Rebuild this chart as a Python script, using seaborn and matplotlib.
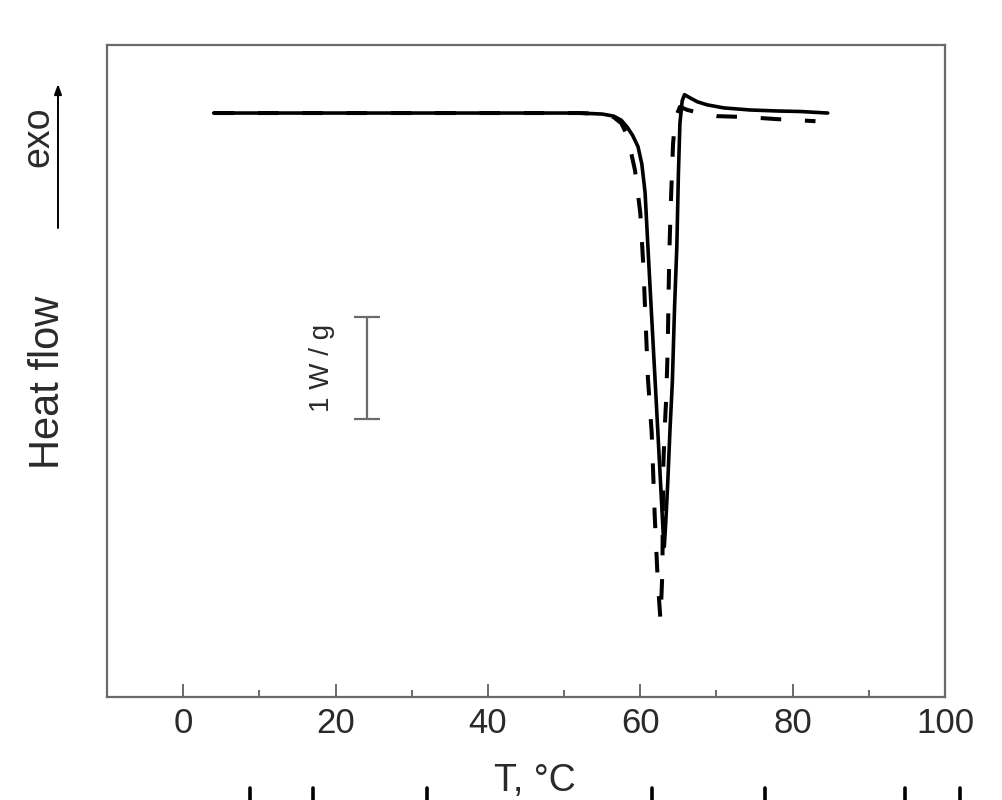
import numpy as np
import pandas as pd
import matplotlib
matplotlib.use("Agg")
import matplotlib.pyplot as plt
from matplotlib.lines import Line2D
from matplotlib.ticker import MultipleLocator
import seaborn as sns

# ---- data ----
t_solid = [4, 20, 40, 52, 55, 56.5, 57.5, 58.3, 59.0, 59.7, 60.2, 60.63, 61.09, 61.61,
           62.2, 62.66, 62.99, 63.15, 63.35, 63.6, 63.9, 64.2, 64.5, 64.8, 65.0,
           65.2, 65.5, 65.8, 66.5, 67.5, 68.8, 71, 74.4, 78, 81, 84.6]
hf_solid = [0, 0, 0, 0, -0.01, -0.03, -0.07, -0.14, -0.22, -0.33, -0.5, -0.78, -1.44, -2.16,
            -2.98, -3.63, -4.1, -4.25, -4.0, -3.63, -3.1, -2.65, -1.9, -1.3, -0.6,
            -0.1, 0.12, 0.18, 0.15, 0.11, 0.08, 0.05, 0.03, 0.02, 0.015, 0.0]

t_dashed = [4, 20, 40, 52, 55, 56.5, 57.5, 58.3, 59.3, 60.0, 60.4, 60.7, 61.0, 61.5, 61.9,
            62.3, 62.65, 62.9, 63.0, 63.2, 63.4, 63.6, 63.8, 64.0, 64.3, 64.6, 65.2, 66.2,
            67.8, 70, 74, 78, 83]
hf_dashed = [0, 0, 0, 0, -0.01, -0.04, -0.1, -0.22, -0.56, -0.98, -1.5, -2.05, -2.6, -3.14,
             -3.96, -4.6, -4.97, -4.5, -3.5, -3.1, -2.8, -2.3, -1.4, -0.9, -0.3, -0.05, 0.06,
             0.03, 0.0, -0.03, -0.04, -0.06, -0.08]

series_names = ["solid", "dashed"]
x_ticks = [0, 20, 40, 60, 80, 100]

df = pd.concat([
    pd.DataFrame({"T": t_solid, "hf": hf_solid, "run": series_names[0]}),
    pd.DataFrame({"T": t_dashed, "hf": hf_dashed, "run": series_names[1]}),
], ignore_index=True)

# ---- style ----
sns.set_style("white")
plt.rcParams["font.family"] = ["Liberation Sans", "DejaVu Sans"]
spine_col = "#6a6a6a"
text_col = "#2a2a2a"

fig = plt.figure(figsize=(10.03, 8), dpi=100)
ax = fig.add_axes([0.1067, 0.12875, 0.8355, 0.815])

sns.lineplot(data=df, x="T", y="hf", hue="run", style="run",
             palette={"solid": "black", "dashed": "black"},
             dashes={"solid": "", "dashed": (5.1, 5.9)},
             estimator=None, sort=False, legend=False, ax=ax,
             linewidth=2.6)
for ln in ax.get_lines():
    ln.set_solid_joinstyle("round")
    ln.set_dash_capstyle("butt")
ax.get_lines()[1].set_linewidth(2.9)

ax.set_xlim(-10, 100)
ax.set_ylim(-5.725, 0.667)
ax.set_xticks(x_ticks)
ax.set_xticklabels([str(v) for v in x_ticks])
ax.xaxis.set_minor_locator(MultipleLocator(10))
ax.set_yticks([])

for sp in ax.spines.values():
    sp.set_color(spine_col)
    sp.set_linewidth(1.6)

ax.tick_params(axis="x", which="major", direction="in", length=9.5, width=1.4,
               color=spine_col, labelsize=25, labelcolor=text_col, pad=7,
               top=False, bottom=True)
ax.tick_params(axis="x", which="minor", direction="in", length=5, width=1.4,
               color=spine_col, top=False, bottom=True)

# axis labels
ax.set_xlabel("T, °C", fontsize=27, color=text_col)
ax.xaxis.set_label_coords(0.511, -0.1435)
ax.xaxis.label.set_va("baseline")

ax.set_ylabel("Heat flow", fontsize=30, color=text_col)
ax.yaxis.label.set_va("center")
ax.yaxis.label.set_ha("center")
ax.yaxis.set_label_coords(-0.0705, 0.483)

# 1 W/g scale bar
ax.errorbar([24.15], [-2.5], yerr=[0.5], color=spine_col, elinewidth=1.6,
            capsize=9.4, capthick=1.6, fmt="none")
ax.text(18.2, -2.5, "1 W / g", rotation=90, ha="center", va="center",
        fontsize=20, color=text_col)

# exo arrow
fig.text(38 / 1003, 1 - 137 / 800, "exo", rotation=90, ha="center", va="center",
         fontsize=27, color=text_col)
ax.annotate("", xy=(58, 800 - 84), xytext=(58, 800 - 228),
            xycoords="figure pixels", textcoords="figure pixels",
            arrowprops=dict(arrowstyle="-|>,head_length=0.6,head_width=0.22",
                            color="black", lw=1.4, shrinkA=0, shrinkB=0))

# fragments of the next panel's tick marks at the bottom edge
for xp in [250, 313, 427, 652, 765, 905, 960]:
    fig.add_artist(Line2D([xp / 1003, xp / 1003], [0, 12 / 800], color="black",
                          lw=2.6, transform=fig.transFigure))

fig.savefig("out.png", dpi=100)
